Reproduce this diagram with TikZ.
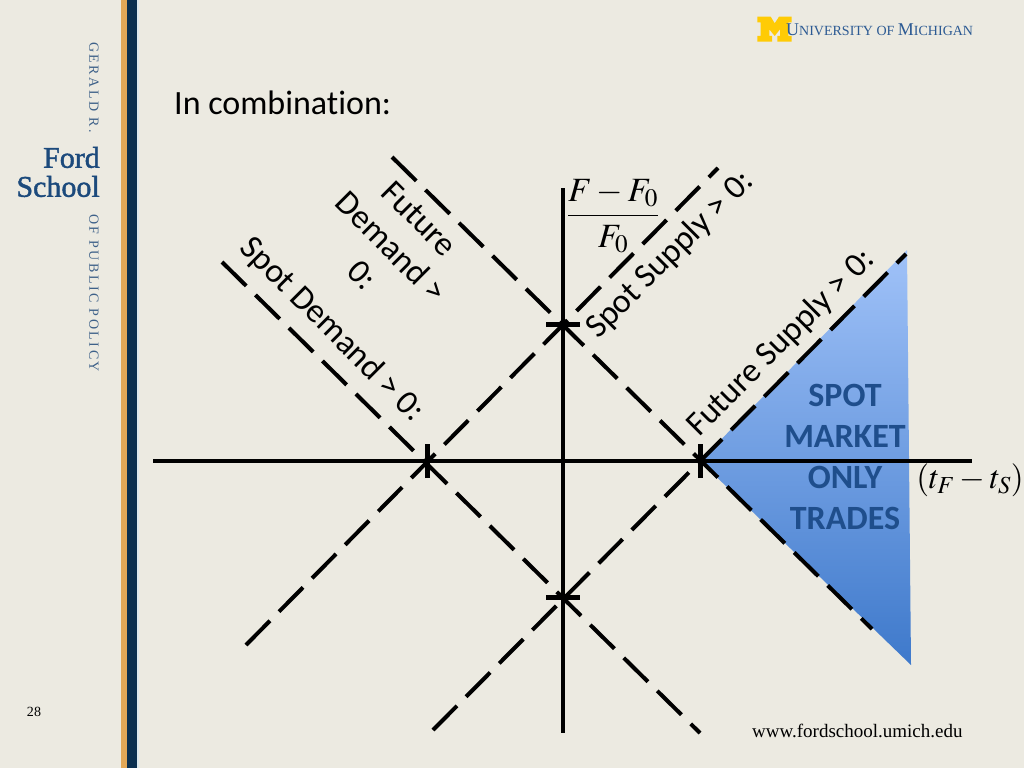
\documentclass[tikz,border=0pt]{standalone}
\usepackage{mathptmx}
\usepackage{fontspec}
\setmainfont[Ligatures=NoCommon]{Carlito}
\newfontfamily\serifface{Liberation Serif}
\newfontfamily\fordface[FakeBold=1.5]{Liberation Serif}
\newfontfamily\sideface[LetterSpace=18]{Liberation Serif}
\definecolor{slidebg}{HTML}{ECEAE1}
\definecolor{barorange}{HTML}{E3A857}
\definecolor{barnavy}{HTML}{0B2F4F}
\definecolor{barpale}{HTML}{DCE8EC}
\definecolor{fordblue}{HTML}{1C4A7C}
\definecolor{sideblue}{HTML}{3E6189}
\definecolor{michblue}{HTML}{2C5A93}
\definecolor{michyellow}{HTML}{FFCB05}
\definecolor{regiontop}{HTML}{A0C2F8}
\definecolor{regionbottom}{HTML}{3E79CB}
\definecolor{regiontext}{HTML}{1F4E8C}
\tikzset{
	axisline/.style={line width=4pt},
	schedule/.style={line width=4pt, dash pattern=on 34pt off 13pt},
	crossing/.style={line width=5pt},
	slidelabel/.style={inner sep=0pt, font=\fontsize{34}{40}\selectfont, align=center},
	regionlabel/.style={inner sep=0pt, text=regiontext, font=\fontsize{34}{41}\selectfont\bfseries, align=center},
	sidelabel/.style={inner sep=0pt, rotate=-90, text=sideblue, font=\fontsize{14}{17}\sideface},
	footlabel/.style={inner sep=0pt, font=\fontsize{19}{22}\serifface}
}
\begin{document}
\begin{tikzpicture}[x=1pt,y=-1pt]
	\useasboundingbox (0,0) rectangle (1024,768);
	\fill[slidebg] (0,0) rectangle (1024,768);
	% Sidebar
	\fill[barorange] (121,0) rectangle (127,768);
	\fill[barnavy] (127,0) rectangle (137,768);
	\fill[barpale] (137,0) rectangle (139,768);
	\node[sidelabel] (gerald) at (94,87.5) {GERALD R.};
	\node[sidelabel] (policy) at (94,293) {OF PUBLIC POLICY};
	\node[inner sep=0pt, anchor=east, text=fordblue, align=right, font=\fontsize{30}{29}\fordface] (ford) at (100,172) {Ford\\School};
	% Header
	\fill[michyellow] (757.3,16.7) -- (770.7,16.7) -- (774.7,23.3) -- (779,16.7) -- (791.7,16.7) -- (791.7,22.3) -- (788.3,22.3) -- (788.3,36) -- (791.7,36) -- (791.7,41.7) -- (777.3,41.7) -- (777.3,36) -- (780,36) -- (780,29.3) -- (774.7,36) -- (769.3,29.3) -- (769.3,36) -- (772,36) -- (772,41.7) -- (757.3,41.7) -- (757.3,36) -- (760.7,36) -- (760.7,22.3) -- (757.3,22.3) -- cycle;
	\node[inner sep=0pt, anchor=base west, text=michblue, font=\fontsize{14}{17}\serifface] (michigan) at (786,36) {{\fontsize{18}{20}\selectfont U}NIVERSITY OF {\fontsize{18}{20}\selectfont M}ICHIGAN};
	\node[slidelabel, anchor=base west] (title) at (174,114) {In combination:};
	% Crossings
	\coordinate (top) at (563,324);
	\coordinate (left) at (427,461);
	\coordinate (right) at (700,461);
	\coordinate (bottom) at (563,597);
	% Ends of the lines
	\coordinate (pricehigh) at (563,188);
	\coordinate (pricelow) at (563,733);
	\coordinate (timelow) at (153,461);
	\coordinate (timehigh) at (972,461);
	\coordinate (fdstart) at (392,157);
	\coordinate (fdend) at (872,629);
	\coordinate (sdstart) at (222,262);
	\coordinate (sdend) at (700,733);
	\coordinate (ssstart) at (246,645);
	\coordinate (ssend) at (718,168);
	\coordinate (fsstart) at (433,730);
	\coordinate (fsend) at (906,254);
	% Region
	\shade[top color=regiontop, bottom color=regionbottom] (907,250) -- (right) -- (911,665) -- cycle;
	% Axes
	\draw[axisline] (timelow) -- (timehigh);
	\draw[axisline] (pricehigh) -- (pricelow);
	% Schedules
	\draw[schedule] (fdstart) -- (fdend);
	\draw[schedule] (sdstart) -- (sdend);
	\draw[schedule] (ssstart) -- (ssend);
	\draw[schedule] (fsstart) -- (fsend);
	% Crossing marks
	\draw[crossing] ([xshift=-17pt]top) -- ([xshift=17pt]top);
	\draw[crossing] ([xshift=-17pt]bottom) -- ([xshift=17pt]bottom);
	\draw[crossing] ([yshift=-17pt]left) -- ([yshift=17pt]left);
	\draw[crossing] ([yshift=-17pt]right) -- ([yshift=17pt]right);
	% Labels
	\node[slidelabel, rotate=45] (futuresupply) at (781,343) {Future Supply > 0:};
	\node[slidelabel, rotate=45] (spotsupply) at (670,255) {Spot Supply > 0:};
	\node[slidelabel, rotate=-45] (spotdemand) at (332,330) {Spot Demand > 0:};
	\node[slidelabel, rotate=-45] (futuredemand) at (391,247) {Future\\Demand >\\0:};
	\node[regionlabel] (region) at (845,457) {SPOT\\MARKET\\ONLY\\TRADES};
	\node[inner sep=0pt, font=\fontsize{34}{40}\selectfont] (price) at (613,216) {$\displaystyle\frac{F-F_0}{\rule{0pt}{26pt}F_0}$};
	\node[inner sep=0pt, font=\fontsize{33}{40}\selectfont] (time) at (970,480) {$(t_F-t_S)$};
	% Footer
	\node[footlabel, anchor=base, font=\fontsize{14}{17}\serifface] (page) at (34,716) {28};
	\node[footlabel, anchor=base west] (site) at (752,737) {www.fordschool.umich.edu};
\end{tikzpicture}
\end{document}
